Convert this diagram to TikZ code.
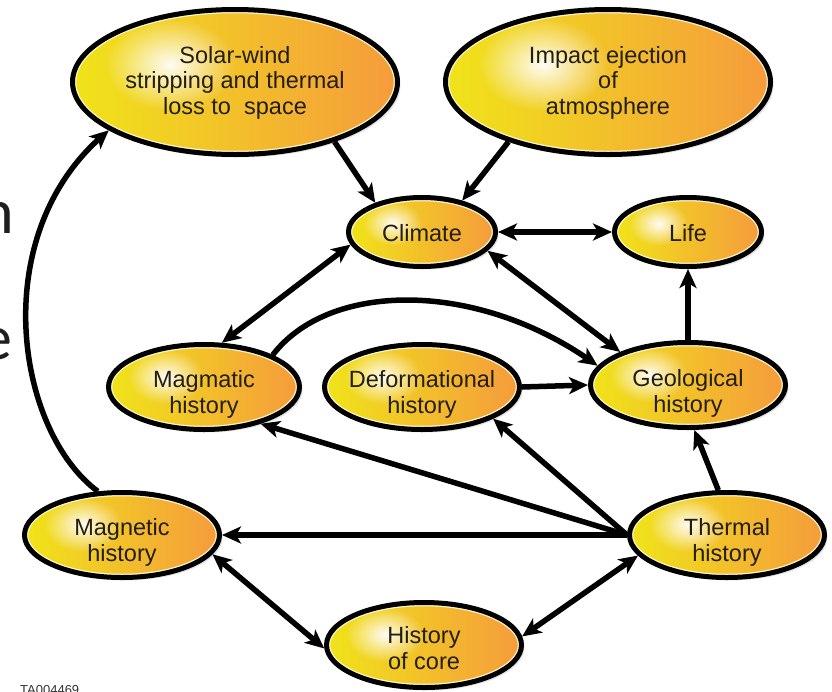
\documentclass[tikz,border=0pt]{standalone}
\usepackage{fontspec}
\setmainfont{Liberation Sans}
\newfontfamily\slidefont{Carlito}
\usetikzlibrary{shapes.geometric,arrows.meta,bending,calc,shadows,fadings}
\tikzfading[name=hlfade, inner color=transparent!5, outer color=transparent!100]
\definecolor{ylw}{RGB}{240,228,25}
\definecolor{ymid}{RGB}{250,212,0}
\definecolor{org}{RGB}{245,155,60}
\definecolor{rim}{RGB}{255,248,200}
\definecolor{txt}{RGB}{35,30,20}
% zero-size text block, lowered by #1, lines centred
\newcommand\ovtext[2]{\makebox[0pt][c]{\raisebox{#1}[0pt][0pt]{\begin{tabular}[b]{@{}c@{}}#2\end{tabular}}}}
\begin{document}
\begin{tikzpicture}[x=1pt,y=-1pt,
  oval/.style={ellipse, draw=black, line width=5pt, inner sep=0pt,
    text=txt, font=\fontsize{23.5}{25.5}\selectfont,
    left color=ylw, middle color=ymid, right color=org,
    drop shadow={shadow xshift=3pt, shadow yshift=-3pt, opacity=0.22},
    path picture={
      \draw[rim, line width=7.5pt] let \p1=(path picture bounding box.south west), \p2=(path picture bounding box.north east) in ({(\x1+\x2)/2},{(\y1+\y2)/2}) ellipse ({(\x2-\x1)/2} and {(\y2-\y1)/2});
      \fill[white, path fading=hlfade] let \p1=(path picture bounding box.south west), \p2=(path picture bounding box.north east) in ({0.7*\x1+0.3*\x2},{0.38*\y1+0.62*\y2}) ellipse ({0.2*(\x2-\x1)} and {0.32*(\y2-\y1)});
    }},
  bigoval/.style={oval, minimum width=325, minimum height=145},
  midoval/.style={oval, minimum width=195, minimum height=85},
  smalloval/.style={oval, minimum width=147, minimum height=69},
  tip/.tip={Stealth[length=19pt,width=17pt,inset=5pt]},
  arr/.style={line width=5.5pt, -tip},
  darr/.style={line width=5.5pt, tip-tip},
  curvearr/.style={line width=5.5pt, -{Stealth[length=19pt,width=17pt,inset=5pt,bend]}}
]
\path[use as bounding box] (0,0) rectangle (832,691);
\clip (0,0) rectangle (832,691);
\fill[white] (0,0) rectangle (832,691);

% fragments of slide text at the left edge
\node[anchor=base east, inner sep=0pt, text=black!88, font=\slidefont\fontsize{64}{64}\selectfont] (fragh) at (14,233) {h};
\node[anchor=base east, inner sep=0pt, text=black!88, font=\slidefont\fontsize{64}{64}\selectfont] (frage) at (13,359) {e};

% nodes
\node[bigoval] (sw) at (235,82) {\ovtext{-32pt}{Solar-wind\\stripping and thermal\\loss to\ \ space}};
\node[bigoval] (ie) at (608,82) {\ovtext{-32pt}{Impact ejection\\of\\atmosphere}};
\node[smalloval] (cl) at (422,232) {\ovtext{-9pt}{Climate}};
\node[smalloval] (life) at (688,232) {\ovtext{-9pt}{Life}};
\node[midoval, minimum width=191] (mag) at (204,387) {\ovtext{-26pt}{Magmatic\\history}};
\node[midoval] (def) at (422,387) {\ovtext{-26pt}{Deformational\\history}};
\node[midoval] (geo) at (688,385) {\ovtext{-27pt}{Geological\\history}};
\node[midoval] (th) at (727,535) {\ovtext{-26pt}{Thermal\\history}};
\node[midoval] (mgn) at (122,535) {\ovtext{-26pt}{Magnetic\\history}};
\node[midoval] (core) at (424,645) {\ovtext{-24pt}{History\\of core}};

\node[anchor=base west, inner sep=0pt, text=black!80, font=\fontsize{13}{13}\selectfont] (tag) at (20,694) {TA004469};

% connectors
\draw[arr] (sw.-31) -- (cl.148);
\draw[arr] (ie.211) -- (cl.38);
\draw[darr] (cl.east) -- (life.west);
\draw[darr] (cl.190) -- (mag.68);
\draw[darr] (cl.-16) -- (geo.154);
\draw[curvearr] (mag.25) .. controls (330,280) and (481,280) .. (geo.168);
\draw[arr] (def.east) -- (geo.west);
\draw[arr] (geo.north) -- (life.south);
\draw[arr] (th.101) -- (geo.-82);
\draw[arr] (th.west) -- (mag.-33);
\draw[arr] (th.west) -- (def.-24);
\draw[arr] (th.west) -- (mgn.east);
\draw[darr] (th.193) -- (core.5);
\draw[darr] (mgn.-12) -- (core.182);
\draw[curvearr] (mgn.119) .. controls (15,430) and (-15,230) .. (sw.201);
\end{tikzpicture}
\end{document}
